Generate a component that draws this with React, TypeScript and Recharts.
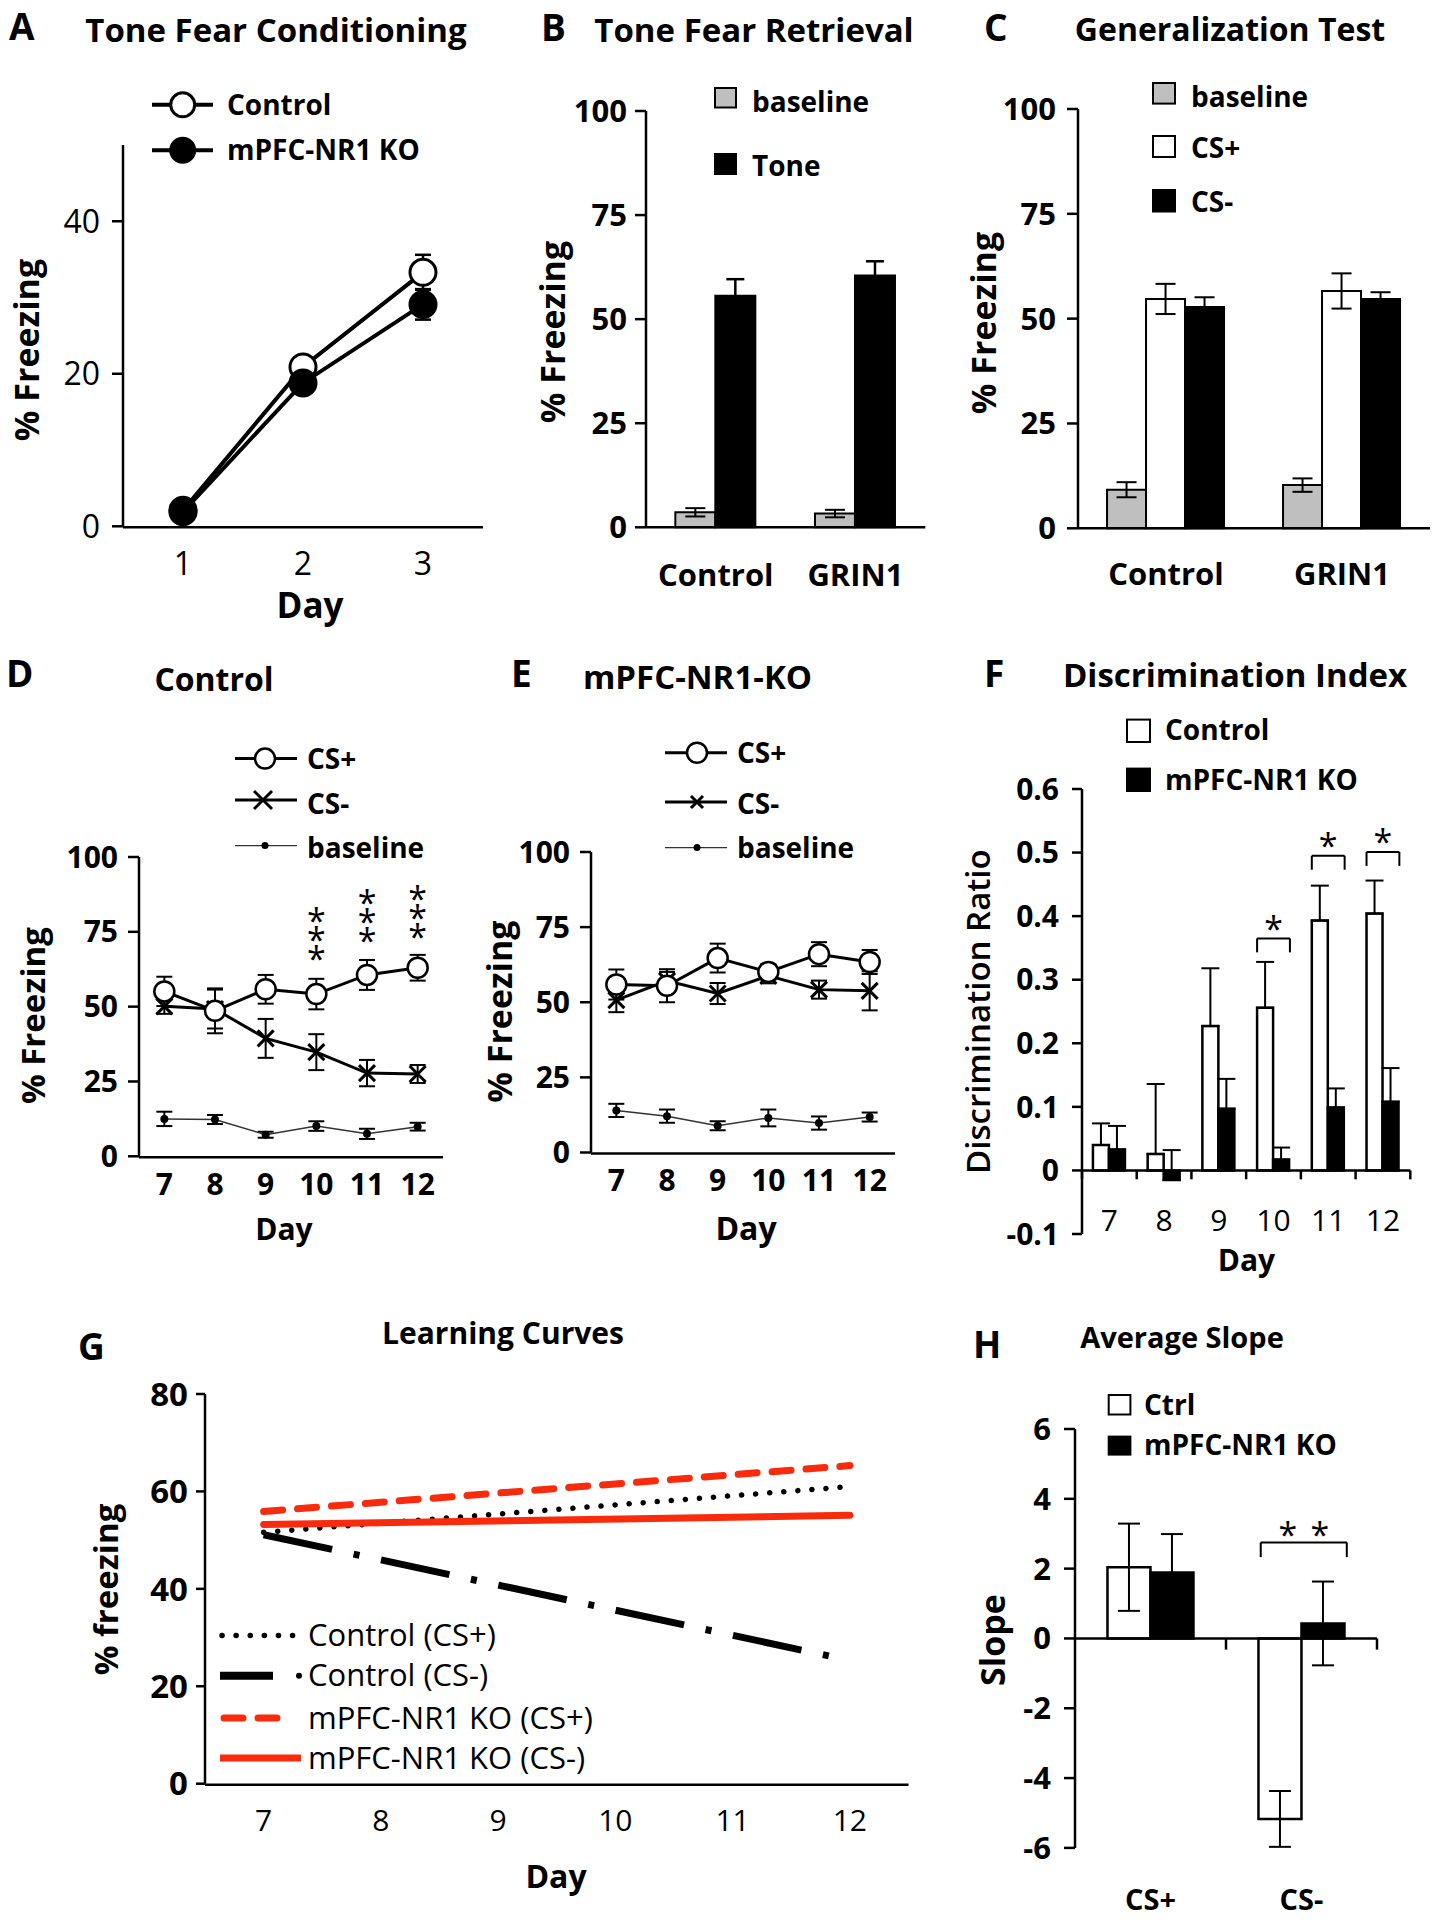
import React from "react";
import {
  ComposedChart,
  Line,
  Bar,
  XAxis,
  YAxis,
  ErrorBar,
  ReferenceLine,
  ReferenceDot,
} from "recharts";

const FONT = "'Open Sans', Lato, 'DejaVu Sans', sans-serif";
const RED = "#FA2A0C";
const GRAY = "#BFBFBF";

// A - tone fear conditioning
const daysA = [1, 2, 3];
const ctrlA = [2.1, 20.9, 33.3];
const ctrlAErr = [1.0, 1.2, 2.3];
const koA = [1.9, 18.8, 29.1];
const koAErr = [0.8, 1.0, 2.0];
const ticksA = [0, 20, 40];

// B - tone fear retrieval
const groupsB = ["Control", "GRIN1"];
const baseB = [3.6, 3.3];
const baseBErr = [1.0, 0.9];
const toneB = [55.6, 60.5];
const toneBErr = [4.0, 3.4];

// C - generalization test
const groupsC = ["Control", "GRIN1"];
const baseC = [9.2, 10.3];
const baseCErr = [1.8, 1.6];
const csPlusC = [54.7, 56.6];
const csPlusCErr = [3.6, 4.2];
const csMinusC = [52.8, 54.7];
const csMinusCErr = [2.3, 1.6];

const ticks100 = [0, 25, 50, 75, 100];

// D / E - daily discrimination
const daysDE = [7, 8, 9, 10, 11, 12];
const csPlusD = [55.1, 48.6, 55.8, 54.2, 60.6, 63.0];
const csPlusDErr = [4.9, 7.5, 4.8, 5.1, 5.0, 4.3];
const csMinusD = [50.1, 49.2, 39.4, 34.8, 27.8, 27.5];
const csMinusDErr = [2.5, 6.5, 6.5, 6.0, 4.4, 3.0];
const baseD = [12.5, 12.3, 7.2, 10.1, 7.5, 9.9];
const baseDErr = [2.4, 1.5, 1.0, 1.6, 1.7, 1.3];
const sigDaysD = [10, 11, 12];
const sigTopD = [81.4, 87.3, 88.6];

const csPlusE = [55.9, 55.5, 64.7, 60.1, 66.0, 63.4];
const csPlusEErr = [5.0, 5.5, 4.8, 2.6, 4.0, 4.0];
const csMinusE = [50.7, 57.1, 52.9, 58.8, 54.2, 53.8];
const csMinusEErr = [4.0, 3.0, 3.5, 2.5, 3.0, 6.5];
const baseE = [14.0, 12.1, 8.9, 11.5, 9.8, 11.8];
const baseEErr = [2.2, 2.2, 1.5, 2.8, 2.2, 1.5];

// F - discrimination index
const daysF = ["7", "8", "9", "10", "11", "12"];
const ctrlF = [0.04, 0.026, 0.227, 0.256, 0.393, 0.404];
const ctrlFErr = [0.034, 0.11, 0.091, 0.072, 0.055, 0.052];
const koF = [0.033, -0.015, 0.097, 0.017, 0.099, 0.108];
const koFErr = [0.037, 0.047, 0.047, 0.019, 0.03, 0.053];
const ticksF = [-0.1, 0, 0.1, 0.2, 0.3, 0.4, 0.5, 0.6];
const sigIdxF = [3, 4, 5];
const bracketTopF = [0.365, 0.495, 0.501];

// G - learning curves (fitted lines, end points)
const fitDays = [7, 12];
const ctrlPlusFit = [51.6, 61.0];
const ctrlMinusFit = [51.1, 25.3];
const koPlusFit = [55.9, 65.3];
const koMinusFit = [53.2, 55.1];
const ticksG = [0, 20, 40, 60, 80];

// H - average slope
const groupsH = ["CS+", "CS-"];
const ctrlH = [2.04, -5.17];
const ctrlHErr = [1.25, 0.8];
const koH = [1.89, 0.43];
const koHErr = [1.1, 1.2];
const ticksH = [-6, -4, -2, 0, 2, 4, 6];
const bracketH = { x0: 1.23, x1: 1.8, top: 2.75, leg: 2.33, star: 3.2 };

const dataA = daysA.map((d, i) => ({ day: d, ctrl: ctrlA[i], ctrlErr: ctrlAErr[i], ko: koA[i], koErr: koAErr[i] }));
const dataB = groupsB.map((g, i) => ({ g, base: baseB[i], baseErr: baseBErr[i], tone: toneB[i], toneErr: toneBErr[i] }));
const dataC = groupsC.map((g, i) => ({
  g, base: baseC[i], baseErr: baseCErr[i], plus: csPlusC[i], plusErr: csPlusCErr[i], minus: csMinusC[i], minusErr: csMinusCErr[i],
}));
const dataD = daysDE.map((d, i) => ({
  day: d, plus: csPlusD[i], plusErr: csPlusDErr[i], minus: csMinusD[i], minusErr: csMinusDErr[i], base: baseD[i], baseErr: baseDErr[i],
}));
const dataE = daysDE.map((d, i) => ({
  day: d, plus: csPlusE[i], plusErr: csPlusEErr[i], minus: csMinusE[i], minusErr: csMinusEErr[i], base: baseE[i], baseErr: baseEErr[i],
}));
const dataF = daysF.map((d, i) => ({ day: d, ctrl: ctrlF[i], ctrlErr: [0, ctrlFErr[i]], ko: koF[i], koErr: [0, koFErr[i]] }));
const dataG = fitDays.map((d, i) => ({ day: d, cp: ctrlPlusFit[i], cm: ctrlMinusFit[i], kp: koPlusFit[i], km: koMinusFit[i] }));
const dataH = groupsH.map((g, i) => ({ g, ctrl: ctrlH[i], ctrlErr: ctrlHErr[i], ko: koH[i], koErr: koHErr[i] }));

type Box = { x0: number; y0: number; x1: number; y1: number; yW: number };
const PAD_T = 20;
const PAD_R = 20;
const PAD_B = 80;
const place = (b: Box) => ({
  style: { position: "absolute" as const, left: b.x0 - b.yW, top: b.y0 - PAD_T },
  width: b.x1 - b.x0 + b.yW + PAD_R,
  height: b.y1 - b.y0 + PAD_T + PAD_B,
  margin: { top: PAD_T, right: PAD_R, bottom: PAD_B, left: 0 },
});

const boxA: Box = { x0: 123, y0: 144.7, x1: 483, y1: 528, yW: 80 };
const boxB: Box = { x0: 645.7, y0: 110.7, x1: 925, y1: 528, yW: 90 };
const boxC: Box = { x0: 1078, y0: 108.7, x1: 1430, y1: 529, yW: 90 };
const boxD: Box = { x0: 139, y0: 856.7, x1: 443, y1: 1158, yW: 90 };
const boxE: Box = { x0: 591, y0: 851.5, x1: 895, y1: 1154, yW: 90 };
const boxF: Box = { x0: 1081.7, y0: 789, x1: 1410, y1: 1235, yW: 90 };
const boxG: Box = { x0: 205, y0: 1393.7, x1: 908.5, y1: 1785.4, yW: 80 };
const boxH: Box = { x0: 1075, y0: 1428.6, x1: 1377, y1: 1848.5, yW: 80 };

const AX = { stroke: "#000", strokeWidth: 2.5 };
const boldTick = (size: number) => ({ fill: "#000", fontSize: size, fontWeight: 700, fontFamily: FONT });
const plainTick = (size: number) => ({ fill: "#000", fontSize: size, fontWeight: 400, fontFamily: FONT });

const xDot = (s: number) => (p: any) => {
  const { cx, cy, index } = p;
  if (cx == null || cy == null) return <g key={`n${index}`} />;
  return (
    <path
      key={`x${index}`}
      d={`M${cx - s} ${cy - s}L${cx + s} ${cy + s}M${cx - s} ${cy + s}L${cx + s} ${cy - s}`}
      stroke="#000"
      strokeWidth={3}
      fill="none"
    />
  );
};

// three asterisks stacked vertically above a day
const starStack = (p: any) => (
  <text y={p.cy + 20} textAnchor="middle" fontSize={34} fontFamily={FONT} fill="#000">
    <tspan x={p.cx} dy={0}>*</tspan>
    <tspan x={p.cx} dy={19}>*</tspan>
    <tspan x={p.cx} dy={19}>*</tspan>
  </text>
);

const starPair = (gap: number) => (p: any) => (
  <text y={p.cy + 20} textAnchor="middle" fontSize={34} fontFamily={FONT} fill="#000">
    {gap === 0 ? (
      <tspan x={p.cx}>*</tspan>
    ) : (
      <>
        <tspan x={p.cx - gap / 2}>*</tspan>
        <tspan x={p.cx + gap / 2}>*</tspan>
      </>
    )}
  </text>
);

const fTick = (p: any) => (
  <text x={p.x} y={p.y - 24} dy="0.71em" textAnchor="middle" fontSize={30} fontFamily={FONT} fill="#000">
    {p.payload.value}
  </text>
);

const edges = (lo: number, n: number) => Array.from({ length: n + 1 }, (_, i) => lo + i);

// a bar-free layer over a bar panel: category boundary ticks, zero line, brackets
function tickLayer(
  box: Box,
  n: number,
  yDomain: [number, number],
  showAxis: boolean,
  tickSize: number,
  extra: React.ReactNode,
) {
  const pl = place(box);
  return (
    <div style={pl.style}>
      <ComposedChart width={pl.width} height={pl.height} margin={pl.margin} data={edges(0, n).map((k) => ({ k }))}>
        <XAxis xAxisId="tk" type="number" dataKey="k" domain={[0, n]} ticks={edges(0, n)} interval={0} allowDataOverflow
          height={1} tick={false} tickSize={tickSize} axisLine={showAxis ? AX : false} tickLine={showAxis ? AX : false} />
        <YAxis type="number" domain={yDomain} allowDataOverflow width={box.yW} tick={false} axisLine={false} tickLine={false} />
        {extra}
      </ComposedChart>
    </div>
  );
}

function LineDE({ box, data, stars }: { box: Box; data: any[]; stars: boolean }) {
  const pl = place(box);
  return (
    <div style={pl.style}>
      <ComposedChart width={pl.width} height={pl.height} margin={pl.margin} data={data}>
        <XAxis xAxisId="tk" type="number" domain={[6.5, 12.5]} ticks={edges(6.5, 6)} interval={0} allowDataOverflow
          height={1} tick={false} tickSize={10} axisLine={AX} tickLine={AX} />
        <XAxis xAxisId="lab" type="number" dataKey="day" domain={[6.5, 12.5]} ticks={daysDE} interval={0}
          height={1} tickSize={0} tickMargin={17} axisLine={false} tickLine={false} tick={boldTick(30)} />
        <YAxis type="number" domain={[0, 100]} ticks={ticks100} interval={0} width={box.yW} tickSize={11}
          tickMargin={10} axisLine={AX} tickLine={AX} tick={boldTick(30)} />
        <Line xAxisId="lab" dataKey="base" stroke="#333" strokeWidth={1.5} isAnimationActive={false}
          dot={{ r: 4, fill: "#000", stroke: "none" }}>
          <ErrorBar dataKey="baseErr" direction="y" width={8} stroke="#000" strokeWidth={2} />
        </Line>
        <Line xAxisId="lab" dataKey="minus" stroke="#000" strokeWidth={3} isAnimationActive={false} dot={xDot(8)}>
          <ErrorBar dataKey="minusErr" direction="y" width={8} stroke="#000" strokeWidth={2} />
        </Line>
        <Line xAxisId="lab" dataKey="plus" stroke="#000" strokeWidth={3} isAnimationActive={false}
          dot={{ r: 10, fill: "#fff", stroke: "#000", strokeWidth: 2.5 }}>
          <ErrorBar dataKey="plusErr" direction="y" width={8} stroke="#000" strokeWidth={2} />
        </Line>
        {stars &&
          sigDaysD.map((d, i) => (
            <ReferenceDot key={d} xAxisId="lab" x={d} y={sigTopD[i]} r={0} shape={starStack} ifOverflow="visible" />
          ))}
      </ComposedChart>
    </div>
  );
}

function Overlay() {
  const T = (x: number, y: number, s: string, size: number, weight = 700, anchor: "start" | "middle" = "start") => (
    <text x={x} y={y} fontSize={size} fontWeight={weight} fontFamily={FONT} textAnchor={anchor} fill="#000">
      {s}
    </text>
  );
  const V = (x: number, y: number, s: string, size: number, weight = 700) => (
    <text x={x} y={y} fontSize={size} fontWeight={weight} fontFamily={FONT} textAnchor="middle"
      dominantBaseline="central" transform={`rotate(-90 ${x} ${y})`} fill="#000">
      {s}
    </text>
  );
  const sq = (x: number, y: number, w: number, h: number, fill: string) => (
    <rect x={x} y={y} width={w} height={h} fill={fill} stroke="#000" strokeWidth={2} />
  );
  const xm = (cx: number, cy: number, s: number) => (
    <path d={`M${cx - s} ${cy - s}L${cx + s} ${cy + s}M${cx - s} ${cy + s}L${cx + s} ${cy - s}`} stroke="#000" strokeWidth={3} />
  );
  return (
    <svg width={1441} height={1920} style={{ position: "absolute", left: 0, top: 0, pointerEvents: "none" }}>
      {/* panel letters */}
      {T(9, 40, "A", 37)}
      {T(541, 41, "B", 37)}
      {T(984, 41, "C", 37)}
      {T(6, 687, "D", 37)}
      {T(511, 687, "E", 37)}
      {T(984, 687, "F", 37)}
      {T(78, 1360, "G", 37)}
      {T(973, 1358, "H", 37)}
      {/* titles */}
      {T(276, 41.5, "Tone Fear Conditioning", 33, 700, "middle")}
      {T(754, 41.5, "Tone Fear Retrieval", 33, 700, "middle")}
      {T(1230, 40.7, "Generalization Test", 32, 700, "middle")}
      {T(214, 691, "Control", 32, 700, "middle")}
      {T(697.5, 689.4, "mPFC-NR1-KO", 33, 700, "middle")}
      {T(1235, 687, "Discrimination Index", 33, 700, "middle")}
      {T(503, 1344, "Learning Curves", 30, 700, "middle")}
      {T(1182, 1348, "Average Slope", 29, 700, "middle")}
      {/* axis titles */}
      {V(26, 350, "% Freezing", 34)}
      {V(551.5, 332, "% Freezing", 34)}
      {V(983, 323, "% Freezing", 34)}
      {V(33, 1015.6, "% Freezing", 33)}
      {V(499, 1011.6, "% Freezing", 34)}
      {V(978, 1011.6, "Discrimination Ratio", 33, 600)}
      {V(105.6, 1589.5, "% freezing", 33)}
      {V(992, 1640, "Slope", 34)}
      {T(310, 618, "Day", 35, 700, "middle")}
      {T(284, 1240, "Day", 30, 700, "middle")}
      {T(746, 1240, "Day", 32, 700, "middle")}
      {T(1246.5, 1271, "Day", 30, 700, "middle")}
      {T(556, 1888, "Day", 32, 700, "middle")}
      {/* legend A */}
      <line x1={152} x2={213} y1={104.8} y2={104.8} stroke="#000" strokeWidth={4} />
      <circle cx={182.7} cy={104.8} r={12} fill="#fff" stroke="#000" strokeWidth={3} />
      {T(227, 114.7, "Control", 28)}
      <line x1={152} x2={213} y1={150.3} y2={150.3} stroke="#000" strokeWidth={4} />
      <circle cx={182.7} cy={150.3} r={12} fill="#000" stroke="#000" strokeWidth={3} />
      {T(227, 160, "mPFC-NR1 KO", 28)}
      {/* legend B */}
      {sq(715, 88, 21, 19.5, GRAY)}
      {T(752, 112, "baseline", 28)}
      {sq(715, 154, 21, 20, "#000")}
      {T(752, 176, "Tone", 28)}
      {/* legend C */}
      {sq(1153, 83, 22, 20.6, GRAY)}
      {T(1191, 106.8, "baseline", 28)}
      {sq(1153, 136, 22, 21, "#fff")}
      {T(1191, 158, "CS+", 28)}
      {sq(1153, 190, 22, 21.5, "#000")}
      {T(1191, 211.5, "CS-", 28)}
      {/* legend D */}
      <line x1={235} x2={297} y1={758.6} y2={758.6} stroke="#000" strokeWidth={3} />
      <circle cx={265} cy={758.6} r={10} fill="#fff" stroke="#000" strokeWidth={2.5} />
      {T(307, 768.5, "CS+", 28)}
      <line x1={235} x2={297} y1={800} y2={800} stroke="#000" strokeWidth={3} />
      {xm(263, 800, 9)}
      {T(307, 814, "CS-", 28)}
      <line x1={235} x2={297} y1={845.6} y2={845.6} stroke="#333" strokeWidth={1.3} />
      <circle cx={265} cy={845.6} r={3.5} fill="#000" />
      {T(307, 857.5, "baseline", 28)}
      {/* legend E */}
      <line x1={665} x2={727} y1={752.7} y2={752.7} stroke="#000" strokeWidth={3} />
      <circle cx={697} cy={752.7} r={10} fill="#fff" stroke="#000" strokeWidth={2.5} />
      {T(737, 762.6, "CS+", 28)}
      <line x1={665} x2={727} y1={802} y2={802} stroke="#000" strokeWidth={3} />
      {xm(697, 802, 6)}
      {T(737, 814, "CS-", 28)}
      <line x1={665} x2={727} y1={847.6} y2={847.6} stroke="#333" strokeWidth={1.3} />
      <circle cx={697} cy={847.6} r={3.5} fill="#000" />
      {T(737, 858, "baseline", 28)}
      {/* legend F */}
      {sq(1127, 719.6, 23, 22.4, "#fff")}
      {T(1165, 740, "Control", 28)}
      {sq(1127, 768.6, 23, 22.4, "#000")}
      {T(1165, 790, "mPFC-NR1 KO", 28)}
      {/* legend G */}
      <line x1={222} x2={293} y1={1635.5} y2={1635.5} stroke="#000" strokeWidth={5.5} strokeDasharray="0.1 14" strokeLinecap="round" />
      {T(308, 1646, "Control (CS+)", 31, 400)}
      <line x1={220} x2={273} y1={1675.7} y2={1675.7} stroke="#000" strokeWidth={8} />
      <circle cx={299} cy={1675.7} r={3} fill="#000" />
      {T(308, 1686, "Control (CS-)", 31, 400)}
      <line x1={224} x2={290} y1={1717.9} y2={1717.9} stroke={RED} strokeWidth={7} strokeDasharray="19 15" strokeLinecap="round" />
      {T(308, 1728.5, "mPFC-NR1 KO (CS+)", 31, 400)}
      <line x1={220} x2={301} y1={1758} y2={1758} stroke={RED} strokeWidth={7} />
      {T(308, 1768.5, "mPFC-NR1 KO (CS-)", 31, 400)}
      {/* legend H */}
      {sq(1108.7, 1395, 21.7, 19.5, "#fff")}
      {T(1144, 1415, "Ctrl", 28)}
      {sq(1108.7, 1436.6, 21.7, 18, "#000")}
      {T(1144, 1455, "mPFC-NR1 KO", 28)}
    </svg>
  );
}

export default function App() {
  const pA = place(boxA);
  const pB = place(boxB);
  const pC = place(boxC);
  const pF = place(boxF);
  const pG = place(boxG);
  const pH = place(boxH);
  const seg = (key: string, x0: number, y0: number, x1: number, y1: number, w = 2) => (
    <ReferenceLine key={key} xAxisId="tk" segment={[{ x: x0, y: y0 }, { x: x1, y: y1 }]}
      stroke="#000" strokeWidth={w} ifOverflow="visible" />
  );
  return (
    <div style={{ position: "absolute", left: 0, top: 0, width: 1441, height: 1920, background: "#fff", overflow: "hidden", fontFamily: FONT }}>
      <style>{`.recharts-surface{overflow:visible}`}</style>

      {/* A */}
      <div style={pA.style}>
        <ComposedChart width={pA.width} height={pA.height} margin={pA.margin} data={dataA}>
          <XAxis xAxisId="tk" type="number" domain={[0.5, 3.5]} ticks={edges(0.5, 3)} interval={0} allowDataOverflow
            height={1} tick={false} tickSize={12} axisLine={AX} tickLine={AX} />
          <XAxis xAxisId="lab" type="number" dataKey="day" domain={[0.5, 3.5]} ticks={daysA} interval={0}
            height={1} tickSize={0} tickMargin={26} axisLine={false} tickLine={false} tick={plainTick(32)} />
          <YAxis type="number" domain={[0, 50]} ticks={ticksA} interval={0} width={boxA.yW} tickSize={11}
            tickMargin={12} axisLine={AX} tickLine={AX} tick={plainTick(32)} />
          <Line xAxisId="lab" dataKey="ctrl" stroke="#000" strokeWidth={4} isAnimationActive={false}
            dot={{ r: 13, fill: "#fff", stroke: "#000", strokeWidth: 3 }}>
            <ErrorBar dataKey="ctrlErr" direction="y" width={8} stroke="#000" strokeWidth={2.5} />
          </Line>
          <Line xAxisId="lab" dataKey="ko" stroke="#000" strokeWidth={4} isAnimationActive={false}
            dot={{ r: 13, fill: "#000", stroke: "#000", strokeWidth: 3 }}>
            <ErrorBar dataKey="koErr" direction="y" width={8} stroke="#000" strokeWidth={2.5} />
          </Line>
        </ComposedChart>
      </div>

      {/* B */}
      <div style={pB.style}>
        <ComposedChart width={pB.width} height={pB.height} margin={pB.margin} data={dataB} barCategoryGap="21%" barGap={0}>
          <XAxis xAxisId="lab" type="category" dataKey="g" interval={0} height={1} tickSize={0} tickMargin={37}
            axisLine={false} tickLine={false} tick={boldTick(31)} />
          <YAxis type="number" domain={[0, 100]} ticks={ticks100} interval={0} width={boxB.yW} tickSize={11}
            tickMargin={8} axisLine={AX} tickLine={AX} tick={boldTick(31)} />
          <Bar xAxisId="lab" dataKey="base" fill={GRAY} stroke="#000" strokeWidth={2} isAnimationActive={false}>
            <ErrorBar dataKey="baseErr" direction="y" width={10} stroke="#000" strokeWidth={2} />
          </Bar>
          <Bar xAxisId="lab" dataKey="tone" fill="#000" stroke="#000" strokeWidth={2} isAnimationActive={false}>
            <ErrorBar dataKey="toneErr" direction="y" width={9} stroke="#000" strokeWidth={2.5} />
          </Bar>
        </ComposedChart>
      </div>
      {tickLayer(boxB, groupsB.length, [0, 100], true, 12, null)}

      {/* C */}
      <div style={pC.style}>
        <ComposedChart width={pC.width} height={pC.height} margin={pC.margin} data={dataC} barCategoryGap="16.5%" barGap={0}>
          <XAxis xAxisId="lab" type="category" dataKey="g" interval={0} height={1} tickSize={0} tickMargin={35}
            axisLine={false} tickLine={false} tick={boldTick(31)} />
          <YAxis type="number" domain={[0, 100]} ticks={ticks100} interval={0} width={boxC.yW} tickSize={11}
            tickMargin={11} axisLine={AX} tickLine={AX} tick={boldTick(31)} />
          <Bar xAxisId="lab" dataKey="base" fill={GRAY} stroke="#000" strokeWidth={2} isAnimationActive={false}>
            <ErrorBar dataKey="baseErr" direction="y" width={10} stroke="#000" strokeWidth={2} />
          </Bar>
          <Bar xAxisId="lab" dataKey="plus" fill="#fff" stroke="#000" strokeWidth={2} isAnimationActive={false}>
            <ErrorBar dataKey="plusErr" direction="y" width={10} stroke="#000" strokeWidth={2} />
          </Bar>
          <Bar xAxisId="lab" dataKey="minus" fill="#000" stroke="#000" strokeWidth={2} isAnimationActive={false}>
            <ErrorBar dataKey="minusErr" direction="y" width={10} stroke="#000" strokeWidth={2} />
          </Bar>
        </ComposedChart>
      </div>
      {tickLayer(boxC, groupsC.length, [0, 100], true, 11, null)}

      {/* D and E */}
      <LineDE box={boxD} data={dataD} stars />
      <LineDE box={boxE} data={dataE} stars={false} />

      {/* F */}
      <div style={pF.style}>
        <ComposedChart width={pF.width} height={pF.height} margin={pF.margin} data={dataF} barCategoryGap="20%" barGap={0}>
          <XAxis xAxisId="lab" type="category" dataKey="day" interval={0} height={1} tickSize={0} tickMargin={0}
            axisLine={false} tickLine={false} tick={fTick} />
          <YAxis type="number" domain={[-0.1, 0.6]} ticks={ticksF} interval={0} width={boxF.yW} tickSize={10}
            tickMargin={13} axisLine={AX} tickLine={AX} tick={boldTick(30)}
            tickFormatter={(v: number) => (v === 0 ? "0" : v.toFixed(1))} />
          <Bar xAxisId="lab" dataKey="ctrl" fill="#fff" stroke="#000" strokeWidth={2.5} isAnimationActive={false}>
            <ErrorBar dataKey="ctrlErr" direction="y" width={9} stroke="#000" strokeWidth={2} />
          </Bar>
          <Bar xAxisId="lab" dataKey="ko" fill="#000" stroke="#000" strokeWidth={2.5} isAnimationActive={false}>
            <ErrorBar dataKey="koErr" direction="y" width={9} stroke="#000" strokeWidth={2} />
          </Bar>
        </ComposedChart>
      </div>
      {tickLayer(boxF, daysF.length, [-0.1, 0.6], false, 0, [
        <ReferenceLine key="zero" xAxisId="tk" y={0} stroke="#000" strokeWidth={2.5} />,
        ...edges(0, daysF.length).map((k) => seg(`t${k}`, k, 0, k, -0.014, 2.5)),
        ...sigIdxF.flatMap((k, i) => [
          seg(`a${k}`, k + 0.2, bracketTopF[i], k + 0.8, bracketTopF[i]),
          seg(`b${k}`, k + 0.2, bracketTopF[i], k + 0.2, bracketTopF[i] - 0.022),
          seg(`c${k}`, k + 0.8, bracketTopF[i], k + 0.8, bracketTopF[i] - 0.022),
          <ReferenceDot key={`d${k}`} xAxisId="tk" x={k + 0.5} y={bracketTopF[i] + 0.028} r={0}
            shape={starPair(0)} ifOverflow="visible" />,
        ]),
      ])}

      {/* G */}
      <div style={pG.style}>
        <ComposedChart width={pG.width} height={pG.height} margin={pG.margin} data={dataG}>
          <XAxis xAxisId="tk" type="number" domain={[6.5, 12.5]} ticks={edges(6.5, 6)} interval={0} allowDataOverflow
            height={1} tick={false} tickSize={9} axisLine={AX} tickLine={AX} />
          <XAxis xAxisId="lab" type="number" dataKey="day" domain={[6.5, 12.5]} ticks={daysDE} interval={0}
            height={1} tickSize={0} tickMargin={26} axisLine={false} tickLine={false} tick={plainTick(30)} />
          <YAxis type="number" domain={[0, 80]} ticks={ticksG} interval={0} width={boxG.yW} tickSize={9}
            tickMargin={8} axisLine={AX} tickLine={AX} tick={boldTick(33)} />
          <Line xAxisId="lab" dataKey="cp" stroke="#000" strokeWidth={5.5} strokeDasharray="0.1 14" strokeLinecap="round"
            dot={false} isAnimationActive={false} />
          <Line xAxisId="lab" dataKey="cm" stroke="#000" strokeWidth={7} strokeDasharray="70 22 6 22"
            dot={false} isAnimationActive={false} />
          <Line xAxisId="lab" dataKey="km" stroke={RED} strokeWidth={7} strokeLinecap="round" dot={false} isAnimationActive={false} />
          <Line xAxisId="lab" dataKey="kp" stroke={RED} strokeWidth={7} strokeDasharray="19 15" strokeLinecap="round"
            dot={false} isAnimationActive={false} />
        </ComposedChart>
      </div>

      {/* H */}
      <div style={pH.style}>
        <ComposedChart width={pH.width} height={pH.height} margin={pH.margin} data={dataH} barCategoryGap="21.5%" barGap={0}>
          <XAxis xAxisId="lab" type="category" dataKey="g" interval={0} height={1} tickSize={0} tickMargin={42}
            axisLine={false} tickLine={false} tick={boldTick(29)} />
          <YAxis type="number" domain={[-6, 6]} ticks={ticksH} interval={0} width={boxH.yW} tickSize={11}
            tickMargin={13} axisLine={AX} tickLine={AX} tick={boldTick(31)} />
          <Bar xAxisId="lab" dataKey="ctrl" fill="#fff" stroke="#000" strokeWidth={2.5} isAnimationActive={false}>
            <ErrorBar dataKey="ctrlErr" direction="y" width={11} stroke="#000" strokeWidth={2} />
          </Bar>
          <Bar xAxisId="lab" dataKey="ko" fill="#000" stroke="#000" strokeWidth={2.5} isAnimationActive={false}>
            <ErrorBar dataKey="koErr" direction="y" width={11} stroke="#000" strokeWidth={2} />
          </Bar>
        </ComposedChart>
      </div>
      {tickLayer(boxH, groupsH.length, [-6, 6], false, 0, [
        <ReferenceLine key="zero" xAxisId="tk" y={0} stroke="#000" strokeWidth={2.5} />,
        ...[1, 2].map((k) => seg(`t${k}`, k, 0, k, -0.32, 2.5)),
        seg("ba", bracketH.x0, bracketH.top, bracketH.x1, bracketH.top),
        seg("bb", bracketH.x0, bracketH.top, bracketH.x0, bracketH.leg),
        seg("bc", bracketH.x1, bracketH.top, bracketH.x1, bracketH.leg),
        <ReferenceDot key="st" xAxisId="tk" x={(bracketH.x0 + bracketH.x1) / 2} y={bracketH.star} r={0}
          shape={starPair(32)} ifOverflow="visible" />,
      ])}

      <Overlay />
    </div>
  );
}
